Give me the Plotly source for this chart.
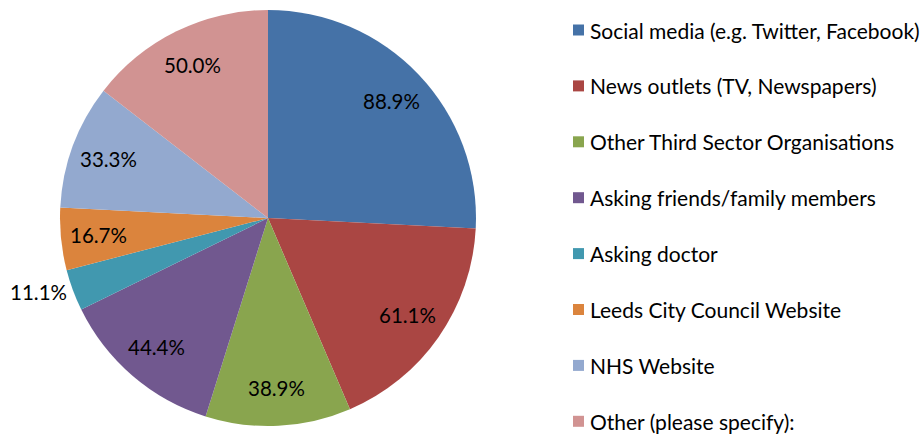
import math
import plotly.graph_objects as go

# Share of respondents using each information source (%)
sources = [
    "Social media (e.g. Twitter, Facebook)",
    "News outlets (TV, Newspapers)",
    "Other Third Sector Organisations",
    "Asking friends/family members",
    "Asking doctor",
    "Leeds City Council Website",
    "NHS Website",
    "Other (please specify):",
]
shares = [88.9, 61.1, 38.9, 44.4, 11.1, 16.7, 33.3, 50.0]
colors = ["#4572A7", "#AA4643", "#89A54E", "#71588F",
          "#4198AF", "#DB843D", "#93A9CF", "#D19392"]
# small slices get their label outside the pie
outside = [False, False, False, False, True, False, False, False]

FONT = "Lato, 'Open Sans', sans-serif"
W, H = 923, 434
cx, cy, r = 268, 218, 208
LABEL_R = 0.82

fig = go.Figure()
fig.add_trace(go.Pie(
    labels=sources,
    values=shares,
    sort=False,
    direction="clockwise",
    rotation=0,
    marker=dict(colors=colors, line=dict(width=0)),
    texttemplate="%{value:.1f}%",
    textposition=["outside" if o else "none" for o in outside],
    textfont=dict(family=FONT, size=20.5, color="#000000"),
    showlegend=False,
    hoverinfo="skip",
    domain=dict(x=[(cx - r) / W, (cx + r) / W],
                y=[(H - cy - r) / H, (H - cy + r) / H]),
))

# Inside value labels placed along each slice's mid angle
total = sum(shares)
cum = 0.0
for v, o in zip(shares, outside):
    mid = (cum + v / 2) / total * 2 * math.pi
    cum += v
    if o:
        continue
    px = cx + LABEL_R * r * math.sin(mid)
    py = cy - LABEL_R * r * math.cos(mid)
    fig.add_annotation(
        x=px / W, y=1 - py / H, xref="paper", yref="paper",
        text=f"{v:.1f}%", showarrow=False,
        xanchor="center", yanchor="middle",
        font=dict(family=FONT, size=20.5, color="#000000"),
    )

# Legend: a coloured square and a label per source, evenly spaced
LEG_X, LEG_TOP, LEG_STEP, SQ = 573, 30, 55.9, 11
for i, (name, c) in enumerate(zip(sources, colors)):
    yc = LEG_TOP + i * LEG_STEP
    fig.add_shape(
        type="rect", xref="paper", yref="paper",
        x0=LEG_X / W, x1=(LEG_X + SQ) / W,
        y0=1 - (yc + SQ / 2) / H, y1=1 - (yc - SQ / 2) / H,
        fillcolor=c, line=dict(width=0),
    )
    fig.add_annotation(
        x=(LEG_X + SQ + 4) / W, y=1 - yc / H, xref="paper", yref="paper",
        text=name, showarrow=False, xanchor="left", yanchor="middle",
        font=dict(family=FONT, size=21, color="#000000"),
    )

fig.update_layout(
    width=W, height=H,
    margin=dict(l=0, r=0, t=0, b=0),
    paper_bgcolor="white", plot_bgcolor="white",
    showlegend=False,
)

fig.write_html("out.html")
